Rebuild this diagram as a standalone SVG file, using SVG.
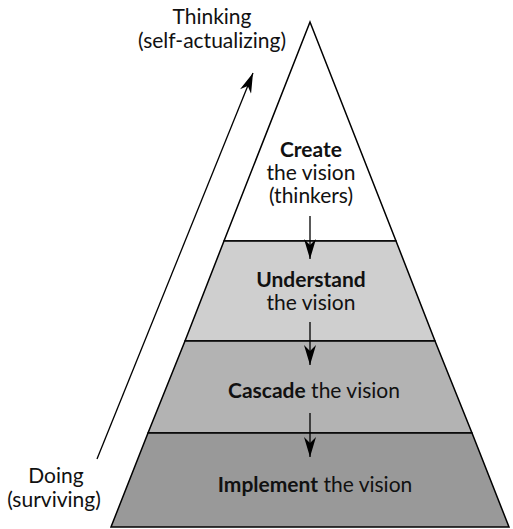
<svg xmlns="http://www.w3.org/2000/svg" width="513" height="529" viewBox="0 0 513 529">
<style>
text{font-family:Lato,"Open Sans","DejaVu Sans",sans-serif;font-size:21px;fill:#111;text-anchor:middle}
.b{font-weight:bold}
.band{stroke:#000;stroke-width:1.5}
.ln{stroke:#000;stroke-width:1.3;fill:none}
</style>
<defs>
<marker id="ah" viewBox="0 0 20 12" refX="20" refY="6" markerWidth="20" markerHeight="12" markerUnits="userSpaceOnUse" orient="auto">
<path d="M0,0 L6,6 L0,12 L20,6 Z" fill="#000"/>
</marker>
</defs>
<rect width="513" height="529" fill="#fff"/>
<g id="level-create">
<polygon class="band" points="310,22 224,241 396,241" fill="#fff"/>
<text class="b" x="311" y="157">Create</text>
<text x="311" y="180">the vision</text>
<text x="311" y="203">(thinkers)</text>
</g>
<g id="level-understand">
<polygon class="band" points="224,241 396,241 435,341 185,341" fill="#cfcfcf"/>
<text class="b" x="311" y="287">Understand</text>
<text x="311" y="310">the vision</text>
</g>
<g id="level-cascade">
<polygon class="band" points="185,341 435,341 472,433 148,433" fill="#b3b3b3"/>
<text x="314" y="398"><tspan class="b">Cascade</tspan> the vision</text>
</g>
<g id="level-implement">
<polygon class="band" points="148,433 472,433 509,527 111,527" fill="#999"/>
<text x="315" y="492"><tspan class="b">Implement</tspan> the vision</text>
</g>
<g id="label-thinking">
<text x="212" y="24">Thinking</text>
<text x="212" y="48">(self-actualizing)</text>
</g>
<g id="label-doing">
<text x="56" y="483">Doing</text>
<text x="54" y="507">(surviving)</text>
</g>
<g id="connectors">
<line class="ln" x1="310" y1="216" x2="310" y2="259" marker-end="url(#ah)"/>
<line class="ln" x1="310" y1="322" x2="310" y2="365" marker-end="url(#ah)"/>
<line class="ln" x1="310" y1="413" x2="310" y2="457" marker-end="url(#ah)"/>
<line class="ln" x1="97" y1="459" x2="253" y2="73" marker-end="url(#ah)"/>
</g>
</svg>
